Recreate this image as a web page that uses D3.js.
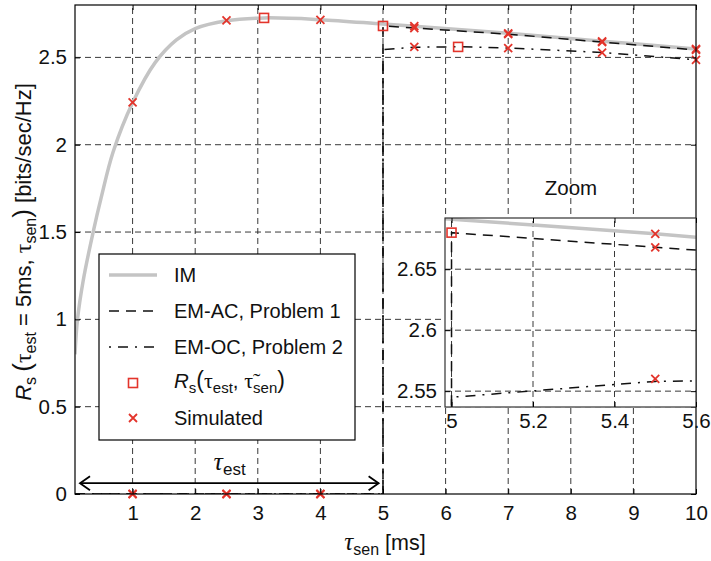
<!DOCTYPE html>
<html>
<head>
<meta charset="utf-8">
<script src="https://cdn.jsdelivr.net/npm/d3@7"></script>
<style>
  body { margin: 0; background: #fff; }
  svg { display: block; font-family: "Liberation Sans", Arial, sans-serif; }
</style>
</head>
<body>
<div id="chart"></div>
<script>
/* values */
var imX = [0.08, 0.12, 0.21, 0.37, 0.5, 0.69, 1.0, 1.36, 1.7, 2.0, 2.5, 3.1, 4.0, 5.0, 5.5, 7.0, 8.5, 10];
var imY = [0.80, 1.00, 1.22, 1.50, 1.70, 1.96, 2.24, 2.47, 2.60, 2.665, 2.71, 2.726, 2.716, 2.691, 2.679, 2.638, 2.593, 2.548];

var acX = [0.08, 5, 5, 5.5, 7, 8.5, 10];
var acY = [0, 0, 2.68, 2.668, 2.633, 2.588, 2.543];

var ocX = [0.08, 5, 5, 5.5, 6.2, 7, 8.5, 10];
var ocY = [0, 0, 2.545, 2.558, 2.561, 2.554, 2.528, 2.487];

var simX  = [1, 2.5, 4, 5.5, 7, 8.5, 10];
var simIM = [2.242, 2.712, 2.715, 2.679, 2.638, 2.592, 2.548];
var simAC = [0, 0, 0, 2.668, 2.633, 2.587, 2.543];
var simOC = [0, 0, 0, 2.56, 2.553, 2.527, 2.486];

var optX = [3.1, 5, 6.2];
var optY = [2.726, 2.68, 2.56];

var xTicks = [1, 2, 3, 4, 5, 6, 7, 8, 9, 10];
var yTicks = [0, 0.5, 1, 1.5, 2, 2.5];
var zxTicks = [5, 5.2, 5.4, 5.6];
var zyTicks = [2.55, 2.6, 2.65];

var legendLabels = ["IM", "EM-AC, Problem 1", "EM-OC, Problem 2", "", "Simulated"];

var RED = "#e3342b", GREY = "#c4c4c4";

var svg = d3.select("#chart").append("svg")
    .attr("width", 711).attr("height", 561);

var defs = svg.append("defs");

/* main axes */
var x = d3.scaleLinear().domain([0.08, 10]).range([75, 696]);
var y = d3.scaleLinear().domain([0, 2.8]).range([494, 5]);

/* zoom axes */
var zx = d3.scaleLinear().domain([4.984, 5.6]).range([445, 696]);
var zy = d3.scaleLinear().domain([2.537, 2.692]).range([407, 218]);

function zip(a, b) { return a.map(function (v, i) { return [v, b[i]]; }); }

// rich text helper: parts = [{t, sub, it, serif, size}]
function rich(t, parts, base) {
  var shift = 0;
  parts.forEach(function (p) {
    var ts = t.append("tspan").text(p.t);
    var want = p.sub ? 5 : 0;
    if (want !== shift) { ts.attr("dy", want - shift); shift = want; }
    ts.attr("font-size", p.size || (p.sub ? base * 0.72 : base));
    if (p.it) ts.attr("font-style", "italic");
    if (p.serif) ts.attr("font-family", "'Liberation Serif', 'DejaVu Serif', serif");
  });
}

function grid(g, xs, ys, xt, yt) {
  g.selectAll(".gx").data(xt).enter().append("line")
    .attr("x1", xs).attr("x2", xs)
    .attr("y1", ys.range()[0]).attr("y2", ys.range()[1])
    .attr("stroke", "#222").attr("stroke-width", 0.9).attr("stroke-dasharray", "6,4");
  g.selectAll(".gy").data(yt).enter().append("line")
    .attr("y1", ys).attr("y2", ys)
    .attr("x1", xs.range()[0]).attr("x2", xs.range()[1])
    .attr("stroke", "#222").attr("stroke-width", 0.9).attr("stroke-dasharray", "6,4");
}

function curves(g, xs, ys) {
  var straight = d3.line().x(function (d) { return xs(d[0]); }).y(function (d) { return ys(d[1]); });
  var smooth = d3.line().x(function (d) { return xs(d[0]); }).y(function (d) { return ys(d[1]); })
      .curve(d3.curveCatmullRom.alpha(0.5));
  g.append("path").attr("d", smooth(zip(imX, imY)))
    .attr("fill", "none").attr("stroke", GREY).attr("stroke-width", 3.5);
  g.append("path").attr("d", straight(zip(acX, acY)))
    .attr("fill", "none").attr("stroke", "#111").attr("stroke-width", 1.5)
    .attr("stroke-dasharray", "10,7");
  g.append("path").attr("d", straight(zip(ocX, ocY)))
    .attr("fill", "none").attr("stroke", "#111").attr("stroke-width", 1.5)
    .attr("stroke-dasharray", "10,7,2,7");
}

function cross(g, cx, cy, r) {
  g.append("path")
    .attr("d", "M" + (cx - r) + "," + (cy - r) + "L" + (cx + r) + "," + (cy + r) +
               "M" + (cx - r) + "," + (cy + r) + "L" + (cx + r) + "," + (cy - r))
    .attr("stroke", RED).attr("stroke-width", 1.8).attr("fill", "none");
}
function square(g, cx, cy, r) {
  g.append("rect").attr("x", cx - r).attr("y", cy - r).attr("width", 2 * r).attr("height", 2 * r)
    .attr("fill", "none").attr("stroke", RED).attr("stroke-width", 1.6);
}

function markers(g, xs, ys) {
  [simIM, simAC, simOC].forEach(function (arr) {
    simX.forEach(function (v, i) { cross(g, xs(v), ys(arr[i]), 4); });
  });
  optX.forEach(function (v, i) { square(g, xs(v), ys(optY[i]), 4.5); });
}

/* ---------- main plot ---------- */
var main = svg.append("g");
grid(main, x, y, xTicks.slice(0, -1), yTicks.slice(1));

defs.append("clipPath").attr("id", "clipMain").append("rect")
  .attr("x", 75).attr("y", 5).attr("width", 621).attr("height", 489);
var mc = main.append("g").attr("clip-path", "url(#clipMain)");
curves(mc, x, y);
markers(main, x, y);

main.append("rect").attr("x", 75).attr("y", 5).attr("width", 621).attr("height", 489)
  .attr("fill", "none").attr("stroke", "#000").attr("stroke-width", 1.2);

main.append("g").attr("transform", "translate(0,494)")
  .call(d3.axisBottom(x).tickValues(xTicks).tickSize(-5).tickPadding(11).tickFormat(d3.format("d")));
main.append("g").attr("transform", "translate(75,0)")
  .call(d3.axisLeft(y).tickValues(yTicks).tickSize(-5).tickPadding(8).tickFormat(d3.format("")));
main.append("g").attr("transform", "translate(0,5)")
  .call(d3.axisTop(x).tickValues(xTicks).tickSize(-5).tickFormat(""));
main.append("g").attr("transform", "translate(696,0)")
  .call(d3.axisRight(y).tickValues(yTicks).tickSize(-5).tickFormat(""));
main.selectAll(".domain").remove();
main.selectAll(".tick line").attr("stroke", "#000");
main.selectAll(".tick text").attr("font-size", 20.5).attr("fill", "#111")
  .attr("font-family", "'Liberation Sans', Arial, sans-serif");

/* tau_est arrow */
var mk = defs.append("marker").attr("id", "ah").attr("viewBox", "-12 -8 14 16")
  .attr("refX", 0).attr("refY", 0).attr("markerWidth", 14).attr("markerHeight", 16)
  .attr("markerUnits", "userSpaceOnUse").attr("orient", "auto-start-reverse");
mk.append("path").attr("d", "M-10,-7L0,0L-10,7").attr("fill", "none")
  .attr("stroke", "#000").attr("stroke-width", 1.8);
main.append("line").attr("x1", x(0.16)).attr("x2", x(4.93))
  .attr("y1", y(0.062)).attr("y2", y(0.062))
  .attr("stroke", "#000").attr("stroke-width", 1.8)
  .attr("marker-start", "url(#ah)").attr("marker-end", "url(#ah)");
var te = main.append("text").attr("x", x(2.55)).attr("y", 470).attr("text-anchor", "middle").attr("fill", "#111");
rich(te, [{t: "τ", it: true, serif: true, size: 26}, {t: "est", sub: true, size: 17}], 20);

/* axis labels */
var xl = svg.append("text").attr("x", 385).attr("y", 550).attr("text-anchor", "middle").attr("fill", "#111");
rich(xl, [{t: "τ", it: true, serif: true, size: 25}, {t: "sen", sub: true, size: 16}, {t: " [ms]"}], 21.5);

var yl = svg.append("text").attr("transform", "translate(31,242) rotate(-90)")
  .attr("text-anchor", "middle").attr("fill", "#111");
rich(yl, [
  {t: "R", it: true}, {t: "s", sub: true, size: 16},
  {t: "\u2009(", size: 26}, {t: "τ", serif: true, size: 24}, {t: "est", sub: true, size: 16},
  {t: " = 5ms, "}, {t: "τ", serif: true, size: 24}, {t: "sen", sub: true, size: 16},
  {t: ")", size: 26}, {t: " [bits/sec/Hz]"}
], 22);

/* legend */
var lg = svg.append("g");
lg.append("rect").attr("x", 99).attr("y", 254).attr("width", 256).attr("height", 186)
  .attr("fill", "#fff").attr("stroke", "#000").attr("stroke-width", 1.2);
var rowY = [275, 311, 347, 383, 418];
lg.append("line").attr("x1", 109).attr("x2", 157).attr("y1", rowY[0]).attr("y2", rowY[0])
  .attr("stroke", GREY).attr("stroke-width", 3.5);
lg.append("line").attr("x1", 109).attr("x2", 157).attr("y1", rowY[1]).attr("y2", rowY[1])
  .attr("stroke", "#111").attr("stroke-width", 1.5).attr("stroke-dasharray", "10,7");
lg.append("line").attr("x1", 109).attr("x2", 157).attr("y1", rowY[2]).attr("y2", rowY[2])
  .attr("stroke", "#111").attr("stroke-width", 1.5).attr("stroke-dasharray", "2,7,10,7");
square(lg, 133, rowY[3], 4.5);
cross(lg, 133, rowY[4], 4);
legendLabels.forEach(function (s, i) {
  if (!s) return;
  lg.append("text").attr("x", 174).attr("y", rowY[i] + 7).attr("font-size", 20)
    .attr("fill", "#111").text(s);
});
var rl = lg.append("text").attr("x", 174).attr("y", rowY[3] + 5).attr("fill", "#111");
rich(rl, [
  {t: "R", it: true}, {t: "s", sub: true, size: 15}, {t: "(", size: 23},
  {t: "τ", serif: true, size: 22}, {t: "est", sub: true, size: 15}, {t: ", "},
  {t: "τ\u0303", serif: true, size: 22}, {t: "sen", sub: true, size: 15}, {t: ")", size: 23}
], 20.5);

/* ---------- zoom inset ---------- */
var zg = svg.append("g");
zg.append("rect").attr("x", 445).attr("y", 218).attr("width", 251).attr("height", 189)
  .attr("fill", "#fff");
grid(zg, zx, zy, [5, 5.2, 5.4], zyTicks);
defs.append("clipPath").attr("id", "clipZoom").append("rect")
  .attr("x", 445).attr("y", 218).attr("width", 251).attr("height", 189);
var zc = zg.append("g").attr("clip-path", "url(#clipZoom)");
curves(zc, zx, zy);
markers(zc, zx, zy);
zg.append("rect").attr("x", 445).attr("y", 218).attr("width", 251).attr("height", 189)
  .attr("fill", "none").attr("stroke", "#333").attr("stroke-width", 1.2);
var zax = zg.append("g");
zax.append("g").attr("transform", "translate(0,407)")
  .call(d3.axisBottom(zx).tickValues(zxTicks).tickSize(-5).tickPadding(6).tickFormat(d3.format("")));
zax.append("g").attr("transform", "translate(445,0)")
  .call(d3.axisLeft(zy).tickValues(zyTicks).tickSize(-5).tickPadding(8).tickFormat(d3.format("")));
zax.append("g").attr("transform", "translate(0,218)")
  .call(d3.axisTop(zx).tickValues(zxTicks).tickSize(-5).tickFormat(""));
zax.append("g").attr("transform", "translate(696,0)")
  .call(d3.axisRight(zy).tickValues(zyTicks).tickSize(-5).tickFormat(""));
zax.selectAll(".domain").remove();
zax.selectAll(".tick line").attr("stroke", "#000");
zax.selectAll(".tick text").attr("font-size", 20.5).attr("fill", "#111")
  .attr("font-family", "'Liberation Sans', Arial, sans-serif");

svg.append("text").attr("x", 571).attr("y", 195).attr("text-anchor", "middle")
  .attr("font-size", 20.5).attr("fill", "#111").text("Zoom");
</script>
</body>
</html>
